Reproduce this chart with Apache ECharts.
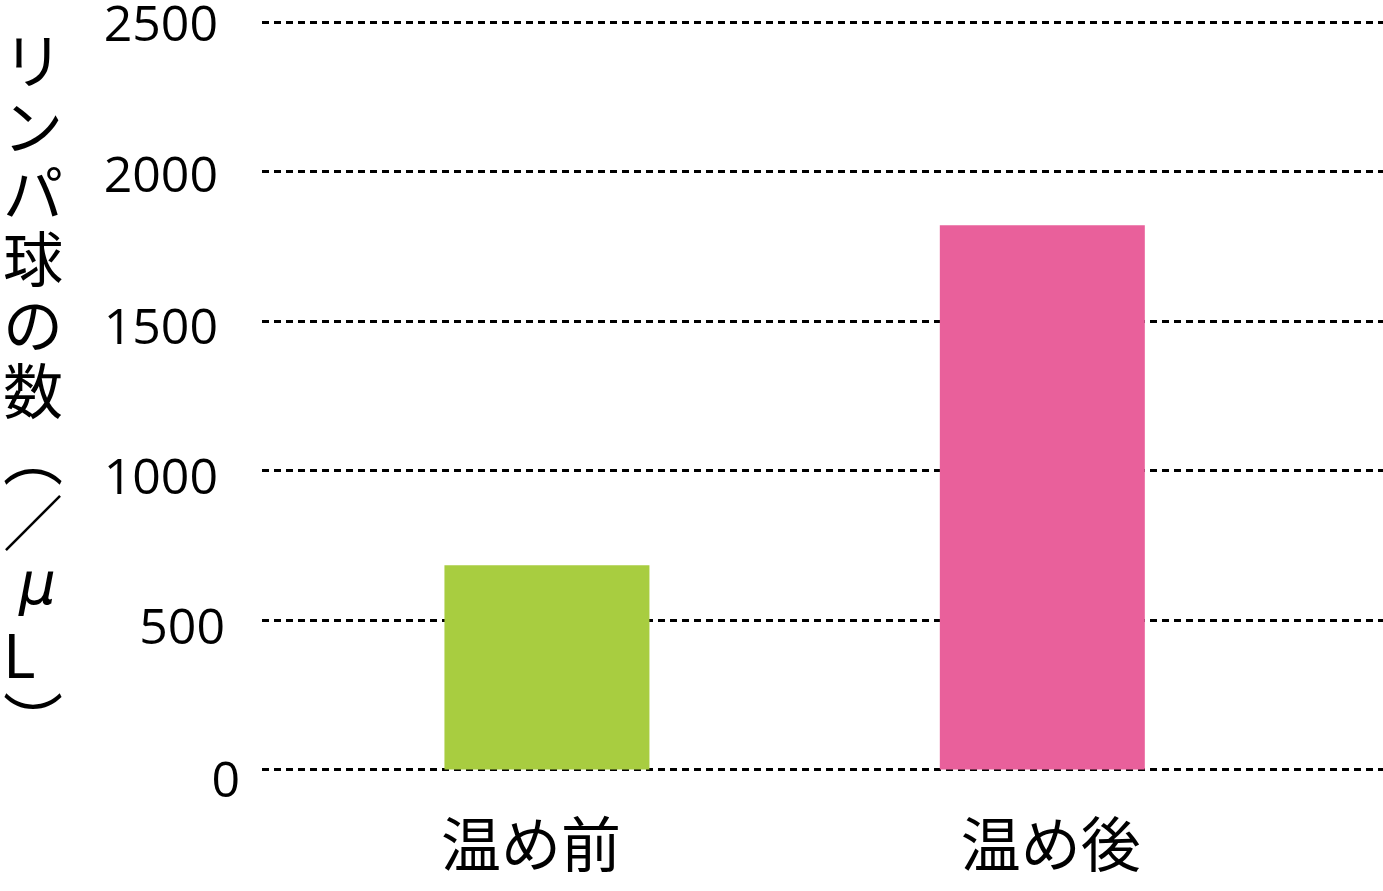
<!DOCTYPE html>
<html>
<head>
<meta charset="utf-8">
<script src="https://cdn.jsdelivr.net/npm/echarts@6/dist/echarts.min.js"></script>
<style>
html,body{margin:0;padding:0;background:#fff;}
#main{width:1383px;height:891px;}
</style>
</head>
<body>
<div id="main"></div>
<script>
const categories = ['温め前', '温め後'];
const values = [683, 1820];
const barColors = ['#A8CD40', '#E9609B'];
const yTitleChars = ['リ', 'ン', 'パ', '球', 'の', '数', '︵', '／', 'μ', 'L', '︶'];
const yMin = 0, yMax = 2500, yStep = 500;

const chart = echarts.init(document.getElementById('main'), null, { renderer: 'canvas' });
const numFont = '"Open Sans", "Noto Sans", sans-serif';
const jpFont = '"Noto Sans CJK JP", sans-serif';

function numStyle(padTop, padRight) {
  return { fontFamily: numFont, fontSize: 50, color: '#000', padding: [padTop, padRight, 0, 0] };
}

const titleText = yTitleChars.map(function (c) {
  return c === 'μ' ? '{g|' + c + '}' : '{j|' + c + '}';
}).join('\n');

const option = {
  backgroundColor: '#ffffff',
  animation: false,
  grid: [
    { left: 262, right: 0, top: 22, bottom: 121.5 },
    { left: 299.25, right: 93, top: 22, bottom: 121.5 }
  ],
  xAxis: [
    { gridIndex: 0, type: 'category', data: [''], show: false },
    {
      gridIndex: 1, type: 'category', data: categories,
      axisLine: { show: false }, axisTick: { show: false },
      axisLabel: {
        margin: 45,
        fontFamily: jpFont, fontSize: 60, color: '#000',
        formatter: function (v, i) { return '{c' + i + '|' + v + '}'; },
        rich: {
          c0: { fontFamily: jpFont, fontSize: 60, color: '#000', padding: [0, 32, 0, 0] },
          c1: { fontFamily: jpFont, fontSize: 60, color: '#000', padding: [0, 0, 0, 17] }
        }
      }
    }
  ],
  yAxis: [
    {
      gridIndex: 0, type: 'value', min: yMin, max: yMax, interval: yStep,
      axisLine: { show: false }, axisTick: { show: false },
      axisLabel: {
        margin: 22, fontFamily: numFont, fontSize: 50, color: '#000',
        formatter: function (v) { return '{t' + v + '|' + String(v) + '}'; },
        rich: {
          t2500: numStyle(10, 22),
          t2000: numStyle(12, 22),
          t1500: numStyle(17, 22),
          t1000: numStyle(18, 22),
          t500: numStyle(20, 15),
          t0: numStyle(26, 0)
        }
      },
      splitLine: { show: true, lineStyle: { color: '#000', width: 2.8, type: [7, 5] } }
    },
    {
      gridIndex: 1, type: 'value', min: yMin, max: yMax, interval: yStep, show: false,
      splitLine: { show: false }
    }
  ],
  series: [
    {
      type: 'bar', xAxisIndex: 1, yAxisIndex: 1, barWidth: 205,
      data: values.map(function (v, i) { return { value: v, itemStyle: { color: barColors[i] } }; }),
      z: 1
    }
  ],
  graphic: [
    {
      type: 'text', left: 3, top: 28, z: 10,
      style: {
        text: titleText,
        fontFamily: jpFont, fontSize: 60, lineHeight: 66,
        fill: '#000', align: 'center', width: 60,
        rich: {
          j: { fontFamily: jpFont, fontSize: 60, lineHeight: 66, color: '#000' },
          g: { fontFamily: '"DejaVu Sans", sans-serif', fontStyle: 'italic', fontSize: 58, lineHeight: 66, color: '#000', padding: [0, 0, 0, 16] }
        }
      }
    }
  ]
};
chart.setOption(option);
</script>
</body>
</html>
